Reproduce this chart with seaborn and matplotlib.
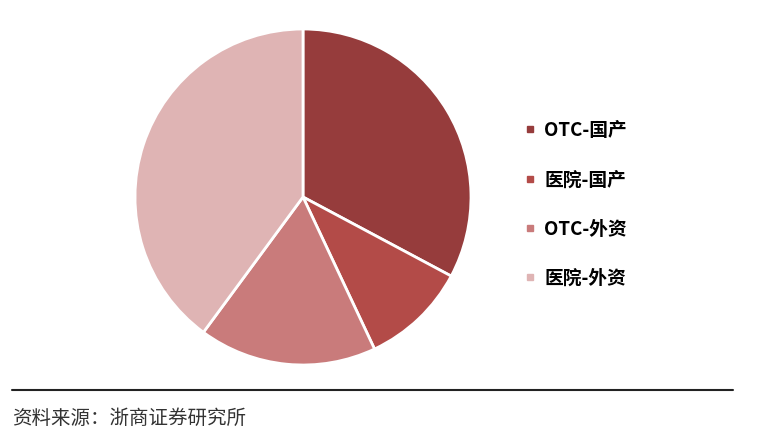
import matplotlib.pyplot as plt
import matplotlib.lines as mlines
import seaborn as sns

# data
labels = ['OTC-国产', '医院-国产', 'OTC-外资', '医院-外资']
shares = [32.8, 10.2, 17.1, 39.9]
colors = ['#963C3C', '#B34B48', '#C97B7B', '#DFB4B4']
source = '资料来源：浙商证券研究所'

sns.set_theme(style='white')
plt.rcParams['font.family'] = ['Noto Sans CJK SC', 'DejaVu Sans']

fig = plt.figure(figsize=(7.58, 4.46), dpi=100)
fig.patch.set_facecolor('white')

# pie, centre about (303, 197) px, radius about 168 px
ax = fig.add_axes([135 / 758, (446 - 197 - 168) / 446, 336 / 758, 336 / 446])
ax.pie(shares, colors=colors, startangle=90, counterclock=False,
       wedgeprops={'edgecolor': 'white', 'linewidth': 2})
ax.set_xlim(-1.0, 1.0)
ax.set_ylim(-1.0, 1.0)
ax.axis('off')

# legend on the right
handles = [mlines.Line2D([], [], marker='s', linestyle='none', markersize=5,
                         markerfacecolor=c, markeredgecolor=c) for c in colors]
leg = fig.legend(handles, labels, loc='upper left', bbox_to_anchor=(506 / 758, 1 - 104 / 446),
                 frameon=False, handletextpad=0.35, handlelength=0.8,
                 labelspacing=1.62, prop={'family': ['Noto Sans CJK SC', 'DejaVu Sans'],
                                          'weight': 'bold', 'size': 13.5})
for t in leg.get_texts():
    t.set_color('black')

# bottom rule and source line
fig.add_artist(mlines.Line2D([12 / 758, 733 / 758], [1 - 390 / 446, 1 - 390 / 446],
                             color='#222222', linewidth=1.5, transform=fig.transFigure))
fig.text(12 / 758, 1 - 418 / 446, source, fontsize=14, color='#333333', va='center')

fig.savefig('out.png', dpi=100, facecolor='white')
